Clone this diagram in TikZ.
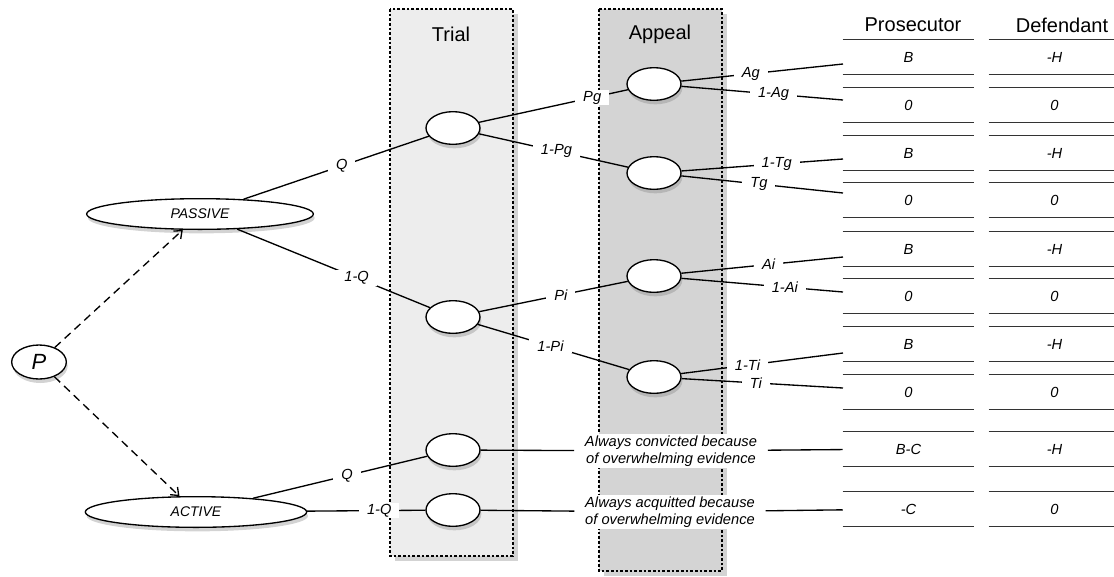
\documentclass[tikz,border=0pt]{standalone}
\usepackage{fontspec}
\setmainfont{Liberation Sans}
\usetikzlibrary{shapes.geometric,shadows,arrows.meta}
\begin{document}
\begin{tikzpicture}[x=0.75pt, y=-0.75pt,
    stage/.style ={ellipse, draw, line width=1pt, fill=white, inner sep=0pt,
      minimum width=40.5pt, minimum height=24.5pt,
      drop shadow={shadow xshift=1pt, shadow yshift=-3pt, opacity=.35}},
    posture/.style ={stage, minimum width=170pt, minimum height=23pt,
      font=\itshape\fontsize{10.5}{12}\selectfont},
    court/.style ={draw, line width=.9pt, dash pattern=on 2pt off 1.5pt,
      drop shadow={shadow xshift=3.5pt, shadow yshift=-3.5pt, opacity=.35}},
    branch/.style ={line width=1pt},
    choice/.style ={branch, dash pattern=on 6pt off 4pt,
      -{Straight Barb[length=5pt, width=8pt]}},
    prob/.style ={fill=white, inner xsep=6pt, inner ysep=1pt,
      font=\itshape\fontsize{11}{13}\selectfont},
    verdict/.style ={prob, align=center, inner xsep=8pt,
      font=\itshape\fontsize{11}{12.75}\selectfont},
    rule/.style ={draw, line width=1.1pt, black!80},
    payoff/.style ={minimum width=98.25pt, minimum height=25.5pt, inner sep=0pt,
      font=\itshape\fontsize{11}{13}\selectfont,
      append after command={(\tikzlastnode.north west) edge[rule] (\tikzlastnode.north east)
        (\tikzlastnode.south west) edge[rule] (\tikzlastnode.south east)}},
    header/.style ={font=\fontsize{15}{18}\selectfont}]
   \useasboundingbox (0,0) rectangle (1114,576);

   \draw[court, fill=black!7] (390,9) rectangle (513,556);
   \draw[court, fill=black!17] (599,9) rectangle (722,571);
   \node[header] (trial) at (451,34) {Trial};
   \node[header] (appeal) at (660,34) {Appeal};
   \node[header] (prosecutor) at (913,25) {Prosecutor};
   \node[header] (defendant) at (1062,25) {Defendant};

   \node[posture, minimum width=41pt, minimum height=25.5pt,
     font=\itshape\fontsize{16.5}{18}\selectfont] (P) at (39,362) {P};
   \node[posture] (passive) at (200,214) {PASSIVE};
   \node[posture, minimum width=166pt] (active) at (196,512) {ACTIVE};

   \node[stage] (T1) at (453,128) {};
   \node[stage] (T2) at (453,317) {};
   \node[stage] (T3) at (453,450) {};
   \node[stage] (T4) at (453,510) {};

   \node[stage] (A1) at (654,84) {};
   \node[stage] (A2) at (654,173) {};
   \node[stage] (A3) at (654,276) {};
   \node[stage] (A4) at (654,377) {};

   \node[verdict] (convicted) at (671,451) {Always convicted because\\of overwhelming evidence};
   \node[verdict] (acquitted) at (670,512) {Always acquitted because\\of overwhelming evidence};

   \node[payoff] (p1) at (908.5,57) {B};
   \node[payoff] (d1) at (1054.5,57) {-H};
   \node[payoff] (p2) at (908.5,105) {0};
   \node[payoff] (d2) at (1054.5,105) {0};
   \node[payoff] (p3) at (908.5,153) {B};
   \node[payoff] (d3) at (1054.5,153) {-H};
   \node[payoff] (p4) at (908.5,200) {0};
   \node[payoff] (d4) at (1054.5,200) {0};
   \node[payoff] (p5) at (908.5,249) {B};
   \node[payoff] (d5) at (1054.5,249) {-H};
   \node[payoff] (p6) at (908.5,296) {0};
   \node[payoff] (d6) at (1054.5,296) {0};
   \node[payoff] (p7) at (908.5,344) {B};
   \node[payoff] (d7) at (1054.5,344) {-H};
   \node[payoff] (p8) at (908.5,392) {0};
   \node[payoff] (d8) at (1054.5,392) {0};
   \node[payoff] (p9) at (908.5,449) {B-C};
   \node[payoff] (d9) at (1054.5,449) {-H};
   \node[payoff] (p10) at (908.5,509) {-C};
   \node[payoff] (d10) at (1054.5,509) {0};

   \coordinate (e1) at (843,64);
   \coordinate (e2) at (843,100);
   \coordinate (e3) at (843,159);
   \coordinate (e4) at (843,193);
   \coordinate (e5) at (843,257);
   \coordinate (e6) at (843,292);
   \coordinate (e7) at (843,353);
   \coordinate (e8) at (843,388);

   \draw[choice] (P) to (passive);
   \draw[choice] (P) to (active);
   \draw[branch] (passive) to node[prob, pos=.53] {Q} (T1);
   \draw[branch] (passive) to node[prob, pos=.62] {1-Q} (T2);
   \draw[branch] (active) to node[prob, pos=.54] {Q} (T3);
   \draw[branch] (active) to node[prob, pos=.61] {1-Q} (T4);
   \draw[branch] (T1) to node[prob, pos=.76] {Pg} (A1);
   \draw[branch] (T1) to node[prob, pos=.52] {1-Pg} (A2);
   \draw[branch] (T2) to node[prob, pos=.55] {Pi} (A3);
   \draw[branch] (T2) to node[prob, pos=.48] {1-Pi} (A4);
   \draw[branch] (T3) to (convicted);
   \draw[branch] (convicted) to (p9);
   \draw[branch] (T4) to (acquitted);
   \draw[branch] (acquitted) to (p10);
   \draw[branch] (A1) to node[prob, pos=.43] {Ag} (e1);
   \draw[branch] (A1) to node[prob, pos=.57] {1-Ag} (e2);
   \draw[branch] (A2) to node[prob, pos=.59] {1-Tg} (e3);
   \draw[branch] (A2) to node[prob, pos=.48] {Tg} (e4);
   \draw[branch] (A3) to node[prob, pos=.54] {Ai} (e5);
   \draw[branch] (A3) to node[prob, pos=.64] {1-Ai} (e6);
   \draw[branch] (A4) to node[prob, pos=.41] {1-Ti} (e7);
   \draw[branch] (A4) to node[prob, pos=.46] {Ti} (e8);
 \end{tikzpicture}
\end{document}
